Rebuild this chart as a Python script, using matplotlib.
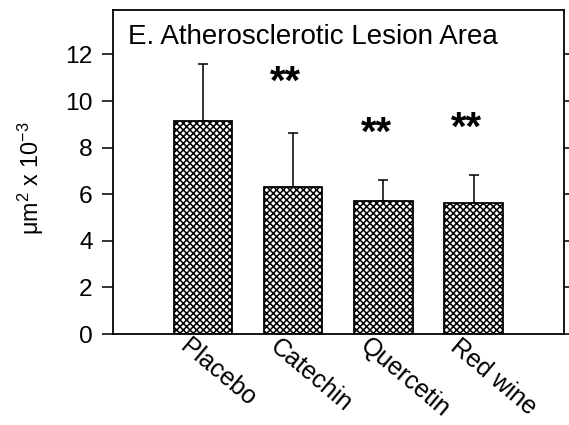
import matplotlib
matplotlib.use('Agg')
import matplotlib.pyplot as plt
import matplotlib.transforms as mtransforms
import numpy as np

categories = ['Placebo', 'Catechin', 'Quercetin', 'Red wine']
means = [9.15, 6.33, 5.72, 5.62]
err_upper = [2.42, 2.30, 0.90, 1.22]
stars = ['', '**', '**', '**']
star_levels = [0.0, 10.8, 8.6, 8.8]
yticks = [0, 2, 4, 6, 8, 10, 12]
title = 'E. Atherosclerotic Lesion Area'
ylabel = r'μm$^2$ x 10$^{-3}$'

DPI = 80
plt.rcParams['font.family'] = ['Liberation Sans', 'DejaVu Sans']
plt.rcParams['mathtext.fontset'] = 'custom'
plt.rcParams['mathtext.rm'] = 'Liberation Sans'
plt.rcParams['mathtext.it'] = 'Liberation Sans:italic'
plt.rcParams['hatch.linewidth'] = 1.4
plt.rcParams['hatch.color'] = 'black'

fig = plt.figure(figsize=(569 / DPI, 425 / DPI), dpi=DPI)
ax = fig.add_axes([0.198, 0.214, 0.793, 0.762])

x = np.arange(len(categories))
ax.bar(x, means, width=0.65, color='white', edgecolor='black', hatch='xxxx',
       linewidth=1.6, zorder=2)
ax.errorbar(x, means, yerr=[np.zeros(len(means)), err_upper], fmt='none',
            ecolor='black', elinewidth=1.4, capsize=4.5, capthick=1.4, zorder=1)

for xi, s, lvl in zip(x, stars, star_levels):
    if s:
        ax.text(xi - 0.08, lvl, s, ha='center', va='center', fontsize=36,
                fontweight='bold')

ax.set_xlim(-1, 4)
ax.set_ylim(0, 13.9)
ax.set_yticks(yticks)
ax.set_xticks(x)
ax.set_xticklabels([])
offset = mtransforms.ScaledTranslation(-12 / DPI, 0 / DPI, fig.dpi_scale_trans)
for xi, cat in zip(x, categories):
    ax.text(xi, 0, cat, transform=ax.get_xaxis_transform() + offset,
            rotation=-40, rotation_mode='anchor', ha='left', va='top',
            fontsize=22.5, clip_on=False)

for sp in ax.spines.values():
    sp.set_linewidth(1.6)
ax.tick_params(axis='y', left=True, right=True, direction='out', length=10,
               width=1.4, labelsize=22, pad=8)
ax.tick_params(axis='x', length=0, pad=0)

ax.text(0.034, 0.897, title, transform=ax.transAxes, fontsize=25,
        ha='left', va='baseline')

ax.set_ylabel(ylabel, fontsize=21)
ax.yaxis.set_label_coords(-0.148, 0.481)

fig.savefig('out.png', dpi=DPI)
